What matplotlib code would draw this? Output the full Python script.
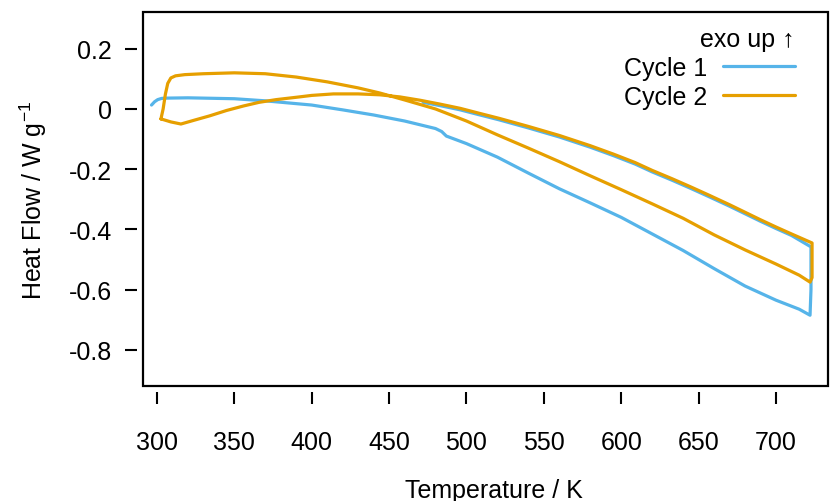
import matplotlib
matplotlib.use("Agg")
import matplotlib.pyplot as plt

plt.rcParams['font.family'] = ['Liberation Sans', 'DejaVu Sans']
plt.rcParams['axes.unicode_minus'] = False
plt.rcParams['mathtext.default'] = 'regular'

# cycle 1: heating, isotherm at 722 K, cooling (K, W/g)
c1_temp = [296.5, 298.5, 300.5, 303.0, 306.0, 320, 350, 370, 400, 420,
           440, 460, 480, 484, 487, 500, 520, 540, 560, 580,
           600, 620, 640, 660, 680, 700, 715, 722.0, 722.6, 722.6,
           710, 700, 690, 680, 670, 657, 645, 633, 620, 609,
           595, 580, 560, 540, 521, 508, 496, 483, 472]
c1_hf = [0.013, 0.024, 0.031, 0.035, 0.036, 0.037, 0.034, 0.027, 0.013, -0.003,
         -0.020, -0.040, -0.065, -0.075, -0.090, -0.115, -0.160, -0.213, -0.265, -0.312,
         -0.360, -0.415, -0.470, -0.530, -0.588, -0.635, -0.665, -0.685, -0.600, -0.458,
         -0.420, -0.397, -0.373, -0.348, -0.323, -0.292, -0.264, -0.237, -0.209, -0.183,
         -0.155, -0.127, -0.093, -0.063, -0.036, -0.019, -0.003, 0.011, 0.022]

# cycle 2
c2_temp = [302.6, 304.0, 305.5, 307.0, 309.0, 312, 318, 330, 350, 370,
           390, 410, 430, 444, 460, 480, 500, 520, 540, 560,
           580, 600, 620, 640, 660, 680, 700, 715, 722.0, 723.3,
           723.3, 710, 700, 690, 680, 670, 657, 645, 633, 620,
           609, 595, 580, 560, 540, 521, 508, 496, 483, 470,
           457, 444, 430, 414, 400, 392, 377, 366, 356, 345,
           334, 325, 315.5, 309, 302.6]
c2_hf = [-0.033, 0.000, 0.050, 0.085, 0.103, 0.110, 0.114, 0.117, 0.120, 0.117,
         0.106, 0.090, 0.070, 0.053, 0.030, 0.000, -0.040, -0.086, -0.130, -0.175,
         -0.222, -0.268, -0.315, -0.363, -0.418, -0.468, -0.515, -0.552, -0.575, -0.560,
         -0.445, -0.415, -0.392, -0.368, -0.343, -0.318, -0.287, -0.259, -0.232, -0.204,
         -0.178, -0.150, -0.122, -0.088, -0.058, -0.031, -0.014, 0.002, 0.016, 0.029,
         0.040, 0.047, 0.050, 0.050, 0.045, 0.040, 0.031, 0.022, 0.010, -0.005,
         -0.023, -0.036, -0.050, -0.043, -0.033]

xticks = [300, 350, 400, 450, 500, 550, 600, 650, 700]
yticks = [0.2, 0, -0.2, -0.4, -0.6, -0.8]
ytick_labels = ['0.2', '0', '-0.2', '-0.4', '-0.6', '-0.8']

fig = plt.figure(figsize=(8.33, 5.02), dpi=100)
ax = fig.add_axes([143/833, 1 - 387/502, (828-143)/833, (387-13)/502])

ax.plot(c1_temp, c1_hf, color='#56B4E9', lw=2.3, label='Cycle 1',
        solid_joinstyle='round', solid_capstyle='round')
ax.plot(c2_temp, c2_hf, color='#E69F00', lw=2.3, label='Cycle 2',
        solid_joinstyle='round', solid_capstyle='round')

ax.set_xlim(291, 733.6)
ax.set_ylim(-0.92, 0.322)

for s in ['left', 'bottom']:
    ax.spines[s].set_position(('outward', 4))
    ax.spines[s].set_color('none')
for s in ['top', 'right']:
    ax.spines[s].set_visible(False)
ax.add_patch(plt.Rectangle((0, 0), 1, 1, transform=ax.transAxes, fill=False,
                           lw=1.6, ec='black', clip_on=False, zorder=5))

ax.set_xticks(xticks)
ax.set_xticklabels([str(t) for t in xticks])
ax.set_yticks(yticks)
ax.set_yticklabels(ytick_labels)
ax.tick_params(axis='both', length=8.5, width=1.5, labelsize=18, color='black')
ax.tick_params(axis='x', pad=19)
ax.tick_params(axis='y', pad=10)

ax.set_xlabel('Temperature / K', fontsize=18)
ax.xaxis.set_label_coords(0.513, -0.245)
ax.set_ylabel('Heat Flow / W g$^{-1}$', fontsize=18, labelpad=14)

ax.legend(title='exo up \u2191', title_fontsize=18, fontsize=18, frameon=False,
          markerfirst=False, alignment='right', loc='upper right',
          bbox_to_anchor=(0.952, 0.96), handlelength=2.9, handletextpad=0.6,
          labelspacing=0.2, borderpad=0, borderaxespad=0)

fig.savefig('out.png', dpi=100)
